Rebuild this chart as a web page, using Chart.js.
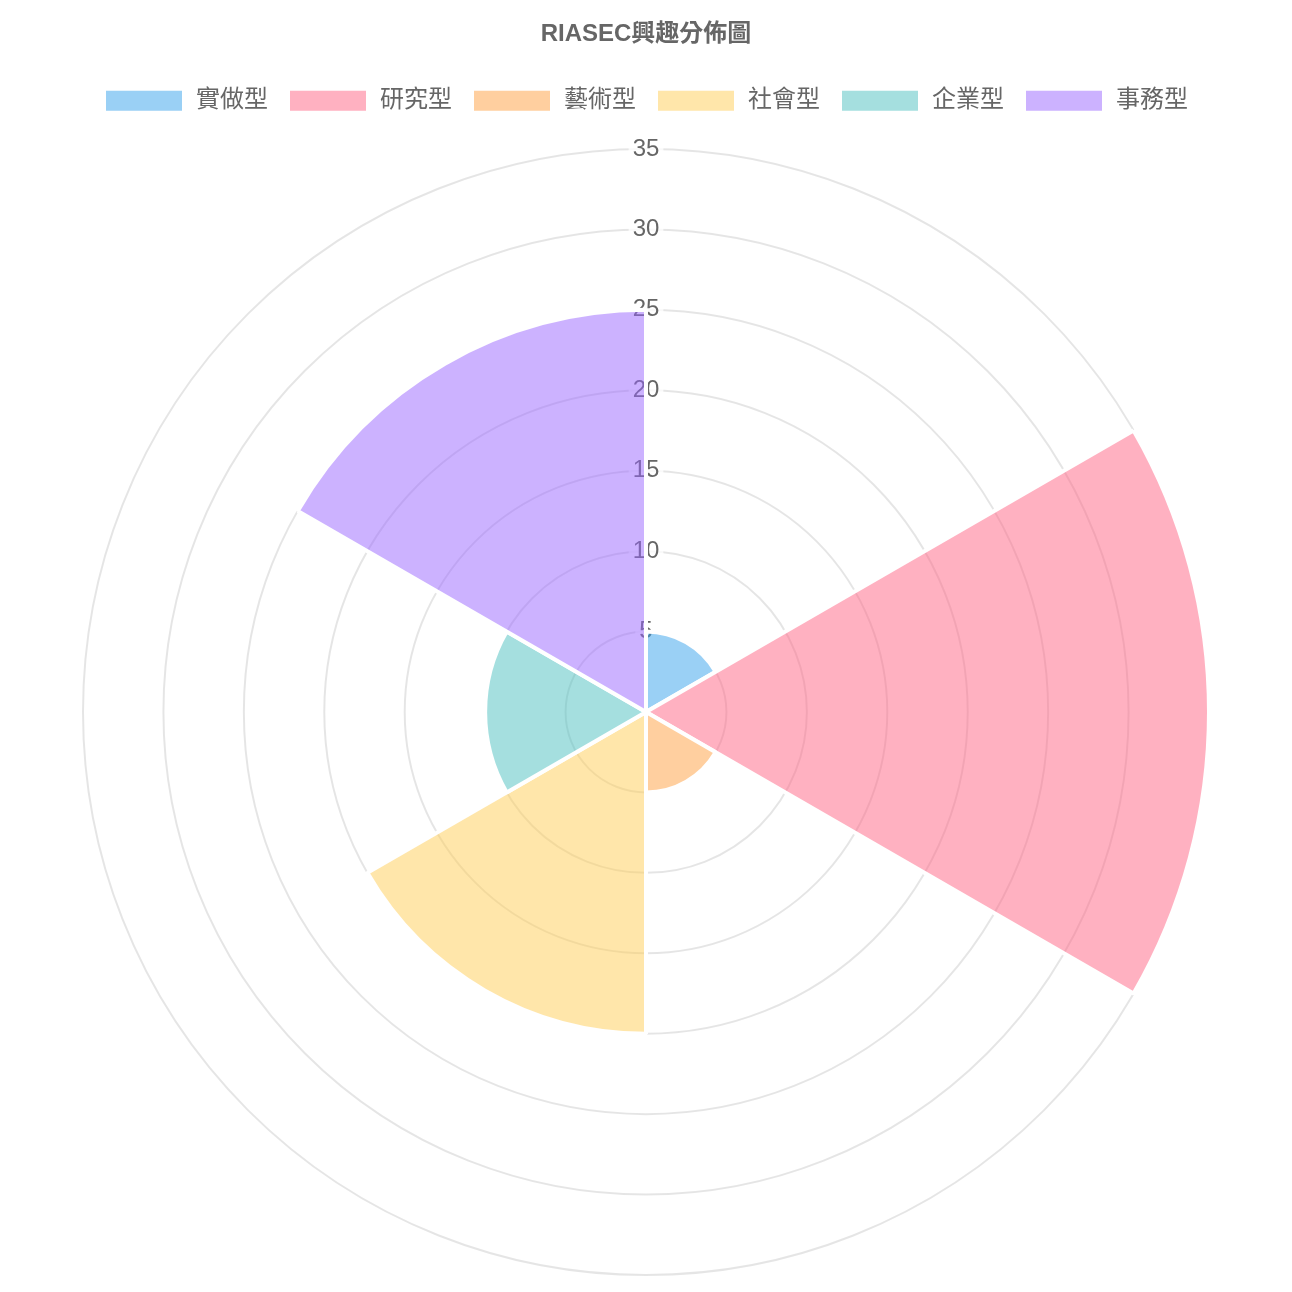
<!DOCTYPE html>
<html>
<head>
<meta charset="utf-8">
<script src="https://cdn.jsdelivr.net/npm/chart.js@4.4.0/dist/chart.umd.min.js"></script>
<style>
  html, body { margin: 0; padding: 0; background: #fff; }
  #wrap { width: 1292px; height: 1292px; }
</style>
</head>
<body>
<div id="wrap"><canvas id="riasecChart"></canvas></div>
<script>
const labels = ['實做型', '研究型', '藝術型', '社會型', '企業型', '事務型'];
const scores = [5, 35, 5, 20, 10, 25];
const colors = [
    'rgba(54, 162, 235, 0.5)',
    'rgba(255, 99, 132, 0.5)',
    'rgba(255, 159, 64, 0.5)',
    'rgba(255, 205, 86, 0.5)',
    'rgba(75, 192, 192, 0.5)',
    'rgba(153, 102, 255, 0.5)'
];

const k = 2;
const family = "'Helvetica Neue', Helvetica, Arial, 'Liberation Sans', 'Noto Sans CJK TC', sans-serif";

// a bit more room under the legend
const legendGap = {
    id: 'legendGap',
    beforeInit(chart) {
        const fit = chart.legend.fit;
        chart.legend.fit = function () {
            fit.call(this);
            this.height += 10;
        };
    }
};

new Chart(document.getElementById('riasecChart'), {
    type: 'polarArea',
    data: {
        labels: labels,
        datasets: [{
            label: '分數',
            data: scores,
            backgroundColor: colors,
            borderColor: '#fff',
            borderWidth: 2 * k
        }]
    },
    options: {
        responsive: true,
        maintainAspectRatio: false,
        animation: false,
        layout: { padding: 0 },
        scales: {
            r: {
                beginAtZero: true,
                ticks: {
                    stepSize: 5,
                    color: '#666',
                    font: { size: 12 * k, family: family },
                    backdropPadding: 2 * k
                },
                grid: { color: 'rgba(0,0,0,0.1)', lineWidth: 1 * k }
            }
        },
        plugins: {
            title: {
                display: true,
                text: 'RIASEC興趣分佈圖',
                color: '#666',
                font: { size: 12 * k, weight: 'bold', family: family },
                padding: { top: 10 * k, bottom: 10 * k }
            },
            legend: {
                labels: {
                    color: '#666',
                    boxWidth: 40 * k,
                    padding: 10 * k,
                    font: { size: 12 * k, family: family }
                }
            }
        }
    },
    plugins: [legendGap]
});
</script>
</body>
</html>
